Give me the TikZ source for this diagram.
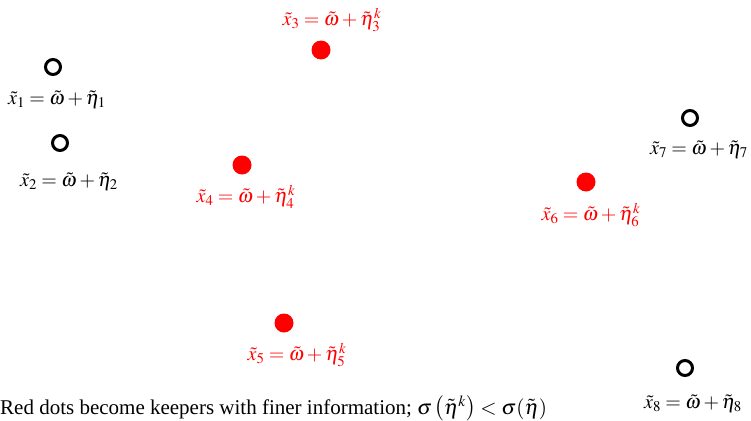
\documentclass[tikz,border=0pt]{standalone}
\usepackage{mathptmx}
\usepackage{fontspec}
\setmainfont{Liberation Serif}
\begin{document}
\begin{tikzpicture}[x=1pt,y=-1pt,
  opendot/.style={circle,draw=black,line width=3pt,minimum size=15pt,inner sep=0pt},
  reddot/.style={circle,fill=red,draw=none,minimum size=19pt,inner sep=0pt},
  blab/.style={inner sep=0pt,font=\fontsize{20}{24}\selectfont,text=black},
  rlab/.style={inner sep=0pt,font=\fontsize{20}{24}\selectfont,text=red},
  captext/.style={inner sep=0pt,font=\fontsize{21}{25}\selectfont,text=black}]
\useasboundingbox (0,0) rectangle (751,420);
\node[opendot] (p1) at (53,67) {};
\node[blab] (l1) at (57,100) {$\tilde{x}_1=\tilde{\omega}+\tilde{\eta}_1$};
\node[opendot] (p2) at (60,143) {};
\node[blab] (l2) at (69,182) {$\tilde{x}_2=\tilde{\omega}+\tilde{\eta}_2$};
\node[reddot] (p3) at (321,50) {};
\node[rlab] (l3) at (332,20) {$\tilde{x}_3=\tilde{\omega}+\tilde{\eta}_3^k$};
\node[reddot] (p4) at (242,165) {};
\node[rlab] (l4) at (246,197) {$\tilde{x}_4=\tilde{\omega}+\tilde{\eta}_4^k$};
\node[reddot] (p6) at (586,182) {};
\node[rlab] (l6) at (591,215) {$\tilde{x}_6=\tilde{\omega}+\tilde{\eta}_6^k$};
\node[opendot] (p7) at (690,118) {};
\node[blab] (l7) at (699,150) {$\tilde{x}_7=\tilde{\omega}+\tilde{\eta}_7$};
\node[reddot] (p5) at (284,323) {};
\node[rlab] (l5) at (297,355) {$\tilde{x}_5=\tilde{\omega}+\tilde{\eta}_5^k$};
\node[opendot] (p8) at (685,368) {};
\node[blab] (l8) at (693,404) {$\tilde{x}_8=\tilde{\omega}+\tilde{\eta}_8$};
\node[captext,anchor=base west] (cap) at (0,414) {Red dots become keepers with finer information; $\sigma\left(\tilde{\eta}^k\right)<\sigma(\tilde{\eta})$};
\end{tikzpicture}
\end{document}
